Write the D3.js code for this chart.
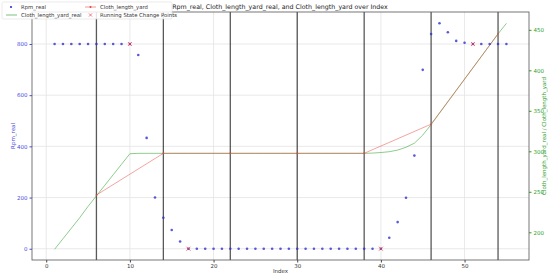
<!DOCTYPE html>
<html>
<head>
<meta charset="utf-8">
<script src="https://cdn.jsdelivr.net/npm/d3@7"></script>
<style>
  body { margin: 0; background: #fff; }
  svg { font-family: "DejaVu Sans", sans-serif; }
</style>
</head>
<body>
<div id="chart"></div>
<script>
// data
var index = d3.range(1, 56);
var rpmReal = [800, 800, 800, 800, 800, 800, 800, 800, 800, 800,
    757, 433, 200, 121, 73, 28, 0, 0, 0, 0,
    0, 0, 0, 0, 0, 0, 0, 0, 0, 0,
    0, 0, 0, 0, 0, 0, 0, 0, 0, 0,
    43, 104, 199, 364, 699, 839, 881, 846, 812, 805,
    800, 800, 800, 800, 800];
var clothReal = [179, 192, 205, 218, 232, 245, 258, 271, 284, 297,
    297.5, 297.5, 297.5, 297.5, 297.5, 297.5, 297.5, 297.5, 297.5, 297.5,
    297.5, 297.5, 297.5, 297.5, 297.5, 297.5, 297.5, 297.5, 297.5, 297.5,
    297.5, 297.5, 297.5, 297.5, 297.5, 297.5, 297.5, 297.5, 297.8, 298.5,
    299.5, 301.5, 305, 310, 320, 333, 347, 361, 375, 389,
    403, 417, 431, 445, 458];
var clothIdx = [6, 14, 22, 30, 38, 46, 54];
var clothYard = [246, 297.5, 297.5, 297.5, 297.5, 333.5, 445];
var changeIdx = [10, 17, 40, 51];
var changeRpm = [800, 0, 0, 800];
var xTicks = [0, 10, 20, 30, 40, 50];
var rpmTicks = [0, 200, 400, 600, 800];
var clothTicks = [200, 250, 300, 350, 400, 450];

var svgWidth = 550, svgHeight = 276;
var margin = { top: 12, right: 21, bottom: 16, left: 32 };
var w = svgWidth - margin.left - margin.right;
var h = svgHeight - margin.top - margin.bottom;

var svg = d3.select("#chart").append("svg")
    .attr("width", svgWidth)
    .attr("height", svgHeight);

var chartGroup = svg.append("g")
    .attr("transform", `translate(${margin.left}, ${margin.top})`);

var xScale = d3.scaleLinear().domain([-1.7, 57.7]).range([0, w]);
var yLeft = d3.scaleLinear().domain([-44, 925]).range([h, 0]);
var yRight = d3.scaleLinear().domain([165.8, 472]).range([h, 0]);

// grid
chartGroup.append("g").selectAll("line").data(xTicks).enter().append("line")
    .attr("x1", d => xScale(d)).attr("x2", d => xScale(d))
    .attr("y1", 0).attr("y2", h)
    .attr("stroke", "#e3e3e3").attr("stroke-width", 0.8);
chartGroup.append("g").selectAll("line").data(rpmTicks).enter().append("line")
    .attr("y1", d => yLeft(d)).attr("y2", d => yLeft(d))
    .attr("x1", 0).attr("x2", w)
    .attr("stroke", "#e3e3e3").attr("stroke-width", 0.8);

// axes
var xAxis = chartGroup.append("g")
    .attr("transform", `translate(0, ${h})`)
    .call(d3.axisBottom(xScale).tickValues(xTicks).tickSize(2.5).tickPadding(2));
var leftAxis = chartGroup.append("g")
    .call(d3.axisLeft(yLeft).tickValues(rpmTicks).tickSize(2.5).tickPadding(2));
var rightAxis = chartGroup.append("g")
    .attr("transform", `translate(${w}, 0)`)
    .call(d3.axisRight(yRight).tickValues(clothTicks).tickSize(2.5).tickPadding(2));

[xAxis, leftAxis, rightAxis].forEach(function (a) {
    a.select(".domain").remove();
    a.selectAll("text").attr("font-size", "5.5px").attr("font-family", "DejaVu Sans, sans-serif");
});
xAxis.selectAll("line").attr("stroke", "#444");
xAxis.selectAll("text").attr("fill", "#333");
leftAxis.selectAll("line").attr("stroke", "#4a4ae0");
leftAxis.selectAll("text").attr("fill", "#4a4ae0");
rightAxis.selectAll("line").attr("stroke", "#2ca02c");
rightAxis.selectAll("text").attr("fill", "#2ca02c");

// vertical black lines
chartGroup.append("g").selectAll("line").data(clothIdx).enter().append("line")
    .attr("x1", d => xScale(d)).attr("x2", d => xScale(d))
    .attr("y1", 0).attr("y2", h)
    .attr("stroke", "#222").attr("stroke-opacity", 0.75).attr("stroke-width", 1.3);

// green line
var greenLine = d3.line().x((d, i) => xScale(index[i])).y(d => yRight(d));
chartGroup.append("path")
    .datum(clothReal)
    .attr("d", greenLine)
    .attr("fill", "none")
    .attr("stroke", "#2ca02c").attr("stroke-opacity", 0.6).attr("stroke-width", 0.9);

// red line
var redLine = d3.line().x((d, i) => xScale(clothIdx[i])).y(d => yRight(d));
chartGroup.append("path")
    .datum(clothYard)
    .attr("d", redLine)
    .attr("fill", "none")
    .attr("stroke", "#e8453c").attr("stroke-opacity", 0.55).attr("stroke-width", 0.9);
chartGroup.append("g").selectAll("circle").data(clothYard).enter().append("circle")
    .attr("cx", (d, i) => xScale(clothIdx[i]))
    .attr("cy", d => yRight(d))
    .attr("r", 1)
    .attr("fill", "#e8453c").attr("fill-opacity", 0.6);

// rpm dots
chartGroup.append("g").selectAll("circle").data(rpmReal).enter().append("circle")
    .attr("cx", (d, i) => xScale(index[i]))
    .attr("cy", d => yLeft(d))
    .attr("r", 1.3)
    .attr("fill", "#3030d0").attr("fill-opacity", 0.8);

// change points
var xMark = function (cx, cy, s) {
    return `M${cx - s},${cy - s}L${cx + s},${cy + s}M${cx - s},${cy + s}L${cx + s},${cy - s}`;
};
chartGroup.append("g").selectAll("path").data(changeRpm).enter().append("path")
    .attr("d", (d, i) => xMark(xScale(changeIdx[i]), yLeft(d), 2))
    .attr("stroke", "#e83040").attr("stroke-opacity", 0.7).attr("stroke-width", 1);

// frame
chartGroup.append("rect")
    .attr("width", w).attr("height", h)
    .attr("fill", "none").attr("stroke", "#555").attr("stroke-width", 0.8);

// labels
svg.append("text")
    .attr("x", 280).attr("y", 9)
    .attr("text-anchor", "middle").attr("font-size", "6.3px").attr("fill", "#222")
    .text("Rpm_real, Cloth_length_yard_real, and Cloth_length_yard over Index");
svg.append("text")
    .attr("x", margin.left + w / 2).attr("y", 273)
    .attr("text-anchor", "middle").attr("font-size", "5.5px").attr("fill", "#333")
    .text("Index");
svg.append("text")
    .attr("transform", `translate(15, ${margin.top + h / 2}) rotate(-90)`)
    .attr("text-anchor", "middle").attr("font-size", "5.5px").attr("fill", "#4a4ae0")
    .text("Rpm_real");
svg.append("text")
    .attr("transform", `translate(546, ${margin.top + h / 2}) rotate(-90)`)
    .attr("text-anchor", "middle").attr("font-size", "5.5px").attr("fill", "#2ca02c")
    .text("Cloth_length_yard_real / Cloth_length_yard");

// legend
var legend = svg.append("g").attr("transform", "translate(2, 2)");
legend.append("rect")
    .attr("width", 170).attr("height", 17).attr("rx", 1.5)
    .attr("fill", "#fff").attr("fill-opacity", 0.85)
    .attr("stroke", "#ddd").attr("stroke-width", 0.6);
legend.append("circle").attr("cx", 9).attr("cy", 5).attr("r", 1.1).attr("fill", "#3030d0");
legend.append("line").attr("x1", 4).attr("x2", 15).attr("y1", 13).attr("y2", 13)
    .attr("stroke", "#2ca02c").attr("stroke-opacity", 0.7).attr("stroke-width", 0.9);
legend.append("line").attr("x1", 83).attr("x2", 94).attr("y1", 5).attr("y2", 5)
    .attr("stroke", "#e8453c").attr("stroke-opacity", 0.6).attr("stroke-width", 0.9);
legend.append("circle").attr("cx", 88.5).attr("cy", 5).attr("r", 1).attr("fill", "#e8453c");
legend.append("path").attr("d", xMark(88.5, 13, 1.6))
    .attr("stroke", "#e83040").attr("stroke-opacity", 0.7).attr("stroke-width", 0.9);
var legendText = [["Rpm_real", 19, 7], ["Cloth_length_yard_real", 19, 15],
    ["Cloth_length_yard", 98, 7], ["Running State Change Points", 98, 15]];
legend.selectAll("text.lg").data(legendText).enter().append("text")
    .attr("x", d => d[1]).attr("y", d => d[2])
    .attr("font-size", "5.3px").attr("fill", "#333")
    .text(d => d[0]);
</script>
</body>
</html>
